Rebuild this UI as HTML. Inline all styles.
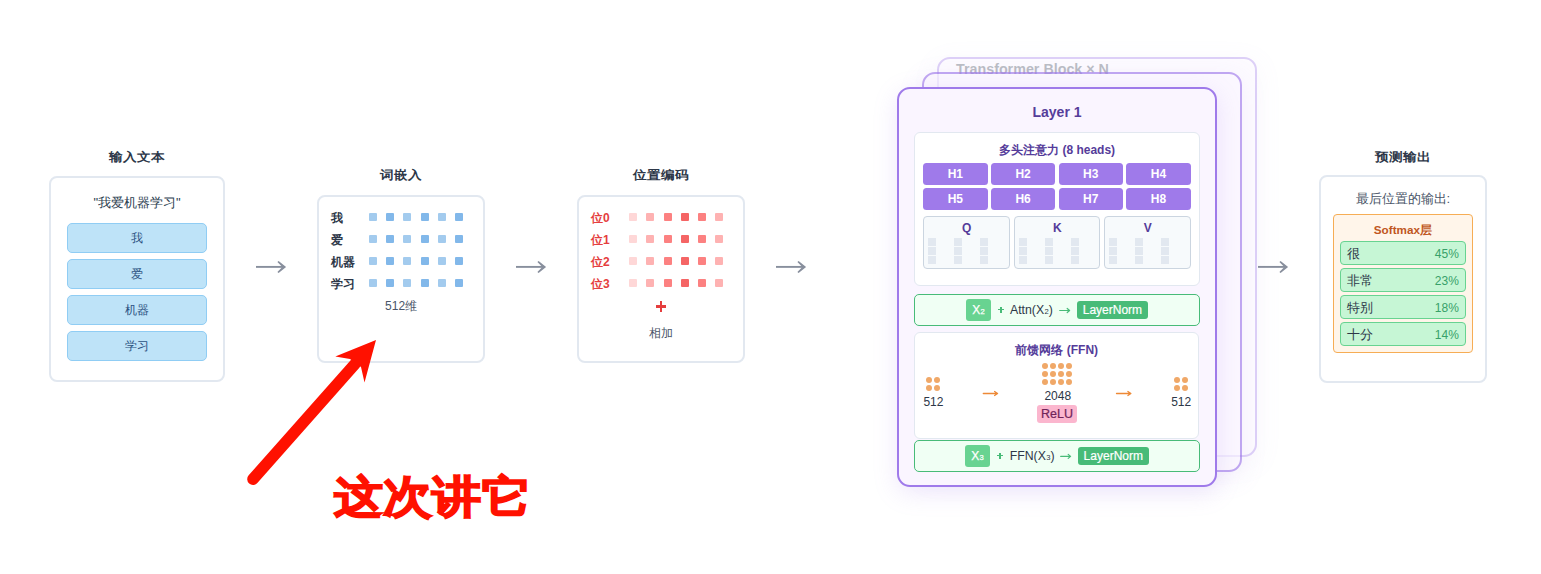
<!DOCTYPE html>
<html><head><meta charset="utf-8">
<style>
*{box-sizing:border-box;margin:0;padding:0}
html,body{width:1541px;height:574px;overflow:hidden;background:#fff}
body{position:relative;font-family:"Liberation Sans",sans-serif;color:#2d3748}
.abs{position:absolute}
.card{position:absolute;border:2px solid #e2e8f0;border-radius:8px;background:#fff}
.ttl{position:absolute;text-align:center;font-size:14px;font-weight:bold;color:#2d3748;line-height:20px;white-space:nowrap;transform:scaleY(0.88)}
.ctr{position:absolute;text-align:center;white-space:nowrap}
.tok{position:absolute;left:67.2px;width:139.6px;height:29.8px;background:#bee3f8;border:1px solid #90cdf4;border-radius:5px;font-size:12.2px;color:#2c5282;text-align:center;line-height:29.6px}
.sq{position:absolute;width:8px;height:8px;border-radius:1px}
.lbl{position:absolute;font-size:12px;font-weight:bold;line-height:16px;white-space:nowrap}
.arrow{position:absolute;width:32px;height:14px}
.layer{position:absolute;width:319px;height:399px;border-radius:13px}
.head{position:absolute;height:21.6px;width:64.4px;background:#9f7aea;border-radius:3.5px;color:#fff;font-weight:bold;font-size:12px;text-align:center;line-height:22.6px}
.qkv{position:absolute;top:216.3px;height:52.6px;border:1px solid #cbd5e0;background:#f7fafc;border-radius:4px}
.qkv b{position:absolute;left:0;right:0;top:4px;text-align:center;font-size:12px;color:#553c9a;line-height:14px}
.ms{position:absolute;width:8px;height:8px;background:#e2e8f0}
.green{position:absolute;left:914.2px;width:285.6px;height:31.7px;border:1px solid #48bb78;background:#f0fff4;border-radius:5px}
.xb{position:absolute;height:22px;width:25px;background:#68d391;border-radius:3px;color:#fff;font-size:12px;text-align:center;line-height:23.5px;-webkit-text-stroke:0.25px #fff}
.plus{position:absolute;width:6.6px;height:5.4px}.plus:before{content:"";position:absolute;left:0;top:1.9px;width:6.6px;height:1.6px;background:#48bb78}.plus:after{content:"";position:absolute;left:2.5px;top:-0.1px;width:1.6px;height:5.6px;background:#48bb78}
.sb{font-size:7.6px;margin-left:0.3px}
.expr{position:absolute;font-size:12.3px;color:#2d3748;line-height:16px;white-space:nowrap}
.garr{position:absolute;color:#38a169;font-size:13px;line-height:16px}
.ln{position:absolute;height:17.8px;width:70.8px;background:#48bb78;border-radius:3px;color:#fff;font-size:12px;-webkit-text-stroke:0.2px #fff;text-align:center;line-height:19.6px}
.dot{position:absolute;width:6px;height:6px;border-radius:50%;background:#f0a868}
.num{position:absolute;font-size:12px;color:#2d3748;line-height:14px;white-space:nowrap}
.oarr{position:absolute;color:#ed8936;font-size:14px;line-height:14px}
.out{position:absolute;left:1340.2px;width:126px;height:23.6px;background:#c6f6d5;border:1px solid #68d391;border-radius:4px;font-size:12.5px;line-height:22.6px}
.out span{position:absolute;left:5.6px;top:0.9px;color:#2d3748}
.out i{position:absolute;right:6.3px;top:0.8px;font-size:12px;font-style:normal;color:#38a169}
</style></head>
<body>

<!-- Card 1 -->
<div class="ttl" style="left:49.5px;width:175px;top:146.5px">输入文本</div>
<div class="card" style="left:49px;top:176px;width:176px;height:206px"></div>
<div class="ctr" style="left:49.5px;width:175px;top:195.3px;font-size:13px;line-height:16px;color:#2c3e50">"我爱机器学习"</div>
<div class="tok" style="top:223px">我</div>
<div class="tok" style="top:259px">爱</div>
<div class="tok" style="top:295px">机器</div>
<div class="tok" style="top:331px">学习</div>

<!-- arrows -->
<svg class="arrow" style="left:255px;top:260px" viewBox="0 0 32 14"><path d="M1 6.9H28.5" fill="none" stroke="#888f9d" stroke-width="1.9"/><path d="M23.6 0.9L31.1 6.9L23.6 12.9L22.4 11.9L27.3 6.9L22.4 1.9Z" fill="#888f9d"/></svg>
<svg class="arrow" style="left:515px;top:260px" viewBox="0 0 32 14"><path d="M1 6.9H28.5" fill="none" stroke="#888f9d" stroke-width="1.9"/><path d="M23.6 0.9L31.1 6.9L23.6 12.9L22.4 11.9L27.3 6.9L22.4 1.9Z" fill="#888f9d"/></svg>
<svg class="arrow" style="left:775px;top:260px" viewBox="0 0 32 14"><path d="M1 6.9H28.5" fill="none" stroke="#888f9d" stroke-width="1.9"/><path d="M23.6 0.9L31.1 6.9L23.6 12.9L22.4 11.9L27.3 6.9L22.4 1.9Z" fill="#888f9d"/></svg>
<svg class="arrow" style="left:1257px;top:260px" viewBox="0 0 32 14"><path d="M1 6.9H28.5" fill="none" stroke="#888f9d" stroke-width="1.9"/><path d="M23.6 0.9L31.1 6.9L23.6 12.9L22.4 11.9L27.3 6.9L22.4 1.9Z" fill="#888f9d"/></svg>

<!-- Card 2 -->
<div class="ttl" style="left:317.3px;width:167.5px;top:165px">词嵌入</div>
<div class="card" style="left:317.3px;top:195px;width:167.5px;height:167.7px"></div>
<div class="lbl" style="left:331px;top:209.6px;color:#2d3748">我</div>
<div class="sq" style="left:369.2px;top:213px;background:#a3cbee"></div>
<div class="sq" style="left:386.34px;top:213px;background:#82b8ea"></div>
<div class="sq" style="left:403.48px;top:213px;background:#a3cbee"></div>
<div class="sq" style="left:420.62px;top:213px;background:#82b8ea"></div>
<div class="sq" style="left:437.76px;top:213px;background:#a3cbee"></div>
<div class="sq" style="left:454.9px;top:213px;background:#82b8ea"></div>
<div class="lbl" style="left:331px;top:231.6px;color:#2d3748">爱</div>
<div class="sq" style="left:369.2px;top:235px;background:#a3cbee"></div>
<div class="sq" style="left:386.34px;top:235px;background:#82b8ea"></div>
<div class="sq" style="left:403.48px;top:235px;background:#a3cbee"></div>
<div class="sq" style="left:420.62px;top:235px;background:#82b8ea"></div>
<div class="sq" style="left:437.76px;top:235px;background:#a3cbee"></div>
<div class="sq" style="left:454.9px;top:235px;background:#82b8ea"></div>
<div class="lbl" style="left:331px;top:253.6px;color:#2d3748">机器</div>
<div class="sq" style="left:369.2px;top:257px;background:#a3cbee"></div>
<div class="sq" style="left:386.34px;top:257px;background:#82b8ea"></div>
<div class="sq" style="left:403.48px;top:257px;background:#a3cbee"></div>
<div class="sq" style="left:420.62px;top:257px;background:#82b8ea"></div>
<div class="sq" style="left:437.76px;top:257px;background:#a3cbee"></div>
<div class="sq" style="left:454.9px;top:257px;background:#82b8ea"></div>
<div class="lbl" style="left:331px;top:275.6px;color:#2d3748">学习</div>
<div class="sq" style="left:369.2px;top:279px;background:#a3cbee"></div>
<div class="sq" style="left:386.34px;top:279px;background:#82b8ea"></div>
<div class="sq" style="left:403.48px;top:279px;background:#a3cbee"></div>
<div class="sq" style="left:420.62px;top:279px;background:#82b8ea"></div>
<div class="sq" style="left:437.76px;top:279px;background:#a3cbee"></div>
<div class="sq" style="left:454.9px;top:279px;background:#82b8ea"></div>
<div class="ctr" style="left:317.3px;width:167.5px;top:298px;font-size:12px;line-height:16px;color:#4a5568">512维</div>

<!-- Card 3 -->
<div class="ttl" style="left:577.3px;width:167.5px;top:165px">位置编码</div>
<div class="card" style="left:577.3px;top:195px;width:167.5px;height:167.7px"></div>
<div class="lbl" style="left:591px;top:209.6px;color:#e53e3e">位0</div>
<div class="sq" style="left:629.1px;top:213px;background:#fed7d7"></div>
<div class="sq" style="left:646.32px;top:213px;background:#feb2b2"></div>
<div class="sq" style="left:663.54px;top:213px;background:#fc8181"></div>
<div class="sq" style="left:680.76px;top:213px;background:#f56565"></div>
<div class="sq" style="left:697.98px;top:213px;background:#fc8181"></div>
<div class="sq" style="left:715.2px;top:213px;background:#feb2b2"></div>
<div class="lbl" style="left:591px;top:231.6px;color:#e53e3e">位1</div>
<div class="sq" style="left:629.1px;top:235px;background:#fed7d7"></div>
<div class="sq" style="left:646.32px;top:235px;background:#feb2b2"></div>
<div class="sq" style="left:663.54px;top:235px;background:#fc8181"></div>
<div class="sq" style="left:680.76px;top:235px;background:#f56565"></div>
<div class="sq" style="left:697.98px;top:235px;background:#fc8181"></div>
<div class="sq" style="left:715.2px;top:235px;background:#feb2b2"></div>
<div class="lbl" style="left:591px;top:253.6px;color:#e53e3e">位2</div>
<div class="sq" style="left:629.1px;top:257px;background:#fed7d7"></div>
<div class="sq" style="left:646.32px;top:257px;background:#feb2b2"></div>
<div class="sq" style="left:663.54px;top:257px;background:#fc8181"></div>
<div class="sq" style="left:680.76px;top:257px;background:#f56565"></div>
<div class="sq" style="left:697.98px;top:257px;background:#fc8181"></div>
<div class="sq" style="left:715.2px;top:257px;background:#feb2b2"></div>
<div class="lbl" style="left:591px;top:275.6px;color:#e53e3e">位3</div>
<div class="sq" style="left:629.1px;top:279px;background:#fed7d7"></div>
<div class="sq" style="left:646.32px;top:279px;background:#feb2b2"></div>
<div class="sq" style="left:663.54px;top:279px;background:#fc8181"></div>
<div class="sq" style="left:680.76px;top:279px;background:#f56565"></div>
<div class="sq" style="left:697.98px;top:279px;background:#fc8181"></div>
<div class="sq" style="left:715.2px;top:279px;background:#feb2b2"></div>
<div class="abs" style="left:655.9px;top:305.1px;width:10.2px;height:2.9px;background:#e53e3e"></div><div class="abs" style="left:659.5px;top:301px;width:2.9px;height:11px;background:#e53e3e"></div>
<div class="ctr" style="left:577.3px;width:167.5px;top:325px;font-size:12px;line-height:16px;color:#4a5568">相加</div>

<!-- Transformer stack -->
<div class="layer" style="left:936.8px;top:56.6px;width:320px;height:400px;border:2px solid #9f7aea;background:#faf5ff;opacity:0.35;box-shadow:0 6px 24px rgba(159,122,234,0.12)"><div class="abs" style="left:17.2px;top:2.4px;font-size:14.3px;font-weight:bold;color:#3d4658;line-height:16px;white-space:nowrap">Transformer Block × N</div></div>
<div class="layer" style="left:922px;top:71.8px;width:320px;height:400px;border:2px solid #9f7aea;background:#faf5ff;opacity:0.65;box-shadow:0 6px 24px rgba(159,122,234,0.15)"></div>
<div class="layer" style="left:897.2px;top:86.8px;width:320px;height:400px;border:2.5px solid #9f7aea;background:#faf5ff;box-shadow:0 6px 24px rgba(159,122,234,0.18)"></div>
<div class="ctr" style="left:897.5px;width:319px;top:103px;font-size:14px;font-weight:bold;color:#553c9a;line-height:18px">Layer 1</div>

<div class="abs" style="left:914.3px;top:132.2px;width:285.6px;height:153.4px;border:1px solid #e2e8f0;background:#fff;border-radius:6px"></div>
<div class="ctr" style="left:914.3px;width:285.6px;top:142px;font-size:12px;font-weight:bold;color:#553c9a;line-height:16px">多头注意力 (8 heads)</div>
<div class="head" style="left:923.2px;top:163px">H1</div>
<div class="head" style="left:990.9px;top:163px">H2</div>
<div class="head" style="left:1058.6px;top:163px">H3</div>
<div class="head" style="left:1126.3px;top:163px">H4</div>
<div class="head" style="left:923.2px;top:188px">H5</div>
<div class="head" style="left:990.9px;top:188px">H6</div>
<div class="head" style="left:1058.6px;top:188px">H7</div>
<div class="head" style="left:1126.3px;top:188px">H8</div>
<div class="qkv" style="left:923.3px;width:86.9px"><b>Q</b></div>
<div class="qkv" style="left:1014.4px;width:85.8px"><b>K</b></div>
<div class="qkv" style="left:1104.2px;width:87px"><b>V</b></div>
<div class="ms" style="left:928.3px;top:238px"></div>
<div class="ms" style="left:928.3px;top:247px"></div>
<div class="ms" style="left:928.3px;top:256px"></div>
<div class="ms" style="left:954.3px;top:238px"></div>
<div class="ms" style="left:954.3px;top:247px"></div>
<div class="ms" style="left:954.3px;top:256px"></div>
<div class="ms" style="left:980.3px;top:238px"></div>
<div class="ms" style="left:980.3px;top:247px"></div>
<div class="ms" style="left:980.3px;top:256px"></div>
<div class="ms" style="left:1019.4px;top:238px"></div>
<div class="ms" style="left:1019.4px;top:247px"></div>
<div class="ms" style="left:1019.4px;top:256px"></div>
<div class="ms" style="left:1045.4px;top:238px"></div>
<div class="ms" style="left:1045.4px;top:247px"></div>
<div class="ms" style="left:1045.4px;top:256px"></div>
<div class="ms" style="left:1071.4px;top:238px"></div>
<div class="ms" style="left:1071.4px;top:247px"></div>
<div class="ms" style="left:1071.4px;top:256px"></div>
<div class="ms" style="left:1109.2px;top:238px"></div>
<div class="ms" style="left:1109.2px;top:247px"></div>
<div class="ms" style="left:1109.2px;top:256px"></div>
<div class="ms" style="left:1135.2px;top:238px"></div>
<div class="ms" style="left:1135.2px;top:247px"></div>
<div class="ms" style="left:1135.2px;top:256px"></div>
<div class="ms" style="left:1161.2px;top:238px"></div>
<div class="ms" style="left:1161.2px;top:247px"></div>
<div class="ms" style="left:1161.2px;top:256px"></div>

<div class="green" style="top:294.1px"></div>
<div class="xb" style="left:966px;top:298.8px">X<span class="sb">2</span></div>
<div class="plus" style="left:997.6px;top:307px"></div>
<div class="expr" style="left:1010px;top:302px">Attn(X<span class="sb">2</span>)</div>
<svg class="abs" style="left:1055px;top:305px" width="20" height="12" viewBox="0 0 20 12"><path d="M4.7 5.5H14.4M12.2 3.5L14.6 5.5L12.2 7.5" fill="none" stroke="#48bb78" stroke-width="1.2" stroke-linecap="round" stroke-linejoin="round"/></svg>
<div class="ln" style="left:1077px;top:301px">LayerNorm</div>

<div class="abs" style="left:914.4px;top:332.3px;width:284.8px;height:106.7px;border:1px solid #e2e8f0;background:#fff;border-radius:6px"></div>
<div class="ctr" style="left:914.4px;width:284.8px;top:341.5px;font-size:12px;font-weight:bold;color:#553c9a;line-height:16px">前馈网络 (FFN)</div>
<div class="dot" style="left:926px;top:377.3px"></div>
<div class="dot" style="left:934px;top:377.3px"></div>
<div class="dot" style="left:926px;top:385.3px"></div>
<div class="dot" style="left:934px;top:385.3px"></div>
<div class="dot" style="left:1042.1px;top:363.1px"></div>
<div class="dot" style="left:1050.1px;top:363.1px"></div>
<div class="dot" style="left:1058.1px;top:363.1px"></div>
<div class="dot" style="left:1066.1px;top:363.1px"></div>
<div class="dot" style="left:1042.1px;top:371.1px"></div>
<div class="dot" style="left:1050.1px;top:371.1px"></div>
<div class="dot" style="left:1058.1px;top:371.1px"></div>
<div class="dot" style="left:1066.1px;top:371.1px"></div>
<div class="dot" style="left:1042.1px;top:379.1px"></div>
<div class="dot" style="left:1050.1px;top:379.1px"></div>
<div class="dot" style="left:1058.1px;top:379.1px"></div>
<div class="dot" style="left:1066.1px;top:379.1px"></div>
<div class="dot" style="left:1174.1px;top:377.3px"></div>
<div class="dot" style="left:1182.1px;top:377.3px"></div>
<div class="dot" style="left:1174.1px;top:385.3px"></div>
<div class="dot" style="left:1182.1px;top:385.3px"></div>
<div class="num" style="left:923.4px;top:395px">512</div>
<svg class="abs" style="left:980px;top:388px" width="22" height="12" viewBox="0 0 22 12"><path d="M3.3 5.5H17.4M14.6 3.5L17.6 5.5L14.6 7.5" fill="none" stroke="#ed8936" stroke-width="1.3" stroke-linecap="round" stroke-linejoin="round"/></svg>
<div class="num" style="left:1044.4px;top:389px">2048</div>
<div class="abs" style="left:1037px;top:405px;width:40px;height:17.6px;background:#fbb6ce;border-radius:3px;color:#702459;font-size:12.5px;-webkit-text-stroke:0.2px #702459;text-align:center;line-height:19.4px">ReLU</div>
<svg class="abs" style="left:1113px;top:388px" width="22" height="12" viewBox="0 0 22 12"><path d="M3.5 5.5H17.7M14.9 3.5L17.9 5.5L14.9 7.5" fill="none" stroke="#ed8936" stroke-width="1.3" stroke-linecap="round" stroke-linejoin="round"/></svg>
<div class="num" style="left:1171.2px;top:395px">512</div>

<div class="green" style="top:440.1px"></div>
<div class="xb" style="left:965px;top:445px">X<span class="sb">3</span></div>
<div class="plus" style="left:996.8px;top:453px"></div>
<div class="expr" style="left:1009.7px;top:448px">FFN(X<span class="sb">3</span>)</div>
<svg class="abs" style="left:1056px;top:451px" width="20" height="12" viewBox="0 0 20 12"><path d="M4.7 5.4H14.4M12.2 3.4L14.6 5.4L12.2 7.4" fill="none" stroke="#48bb78" stroke-width="1.2" stroke-linecap="round" stroke-linejoin="round"/></svg>
<div class="ln" style="left:1077.9px;top:447px">LayerNorm</div>

<!-- Card 5 -->
<div class="ttl" style="left:1319.9px;width:166px;top:146.5px">预测输出</div>
<div class="card" style="left:1319px;top:175px;width:168px;height:208px"></div>
<div class="ctr" style="left:1319.9px;width:166px;top:190.8px;font-size:13px;line-height:16px;color:#4a5568">最后位置的输出:</div>
<div class="abs" style="left:1333.1px;top:214.4px;width:139.6px;height:138.8px;border:1px solid #f6ad55;background:#fff5ea;border-radius:4px"></div>
<div class="ctr" style="left:1333.1px;width:139.6px;top:221.8px;font-size:11.7px;font-weight:bold;line-height:16px;color:#c05621">Softmax层</div>
<div class="out" style="top:241.4px"><span>很</span><i>45%</i></div>
<div class="out" style="top:268.3px"><span>非常</span><i>23%</i></div>
<div class="out" style="top:295.3px"><span>特别</span><i>18%</i></div>
<div class="out" style="top:322.2px"><span>十分</span><i>14%</i></div>

<!-- Red annotation -->
<svg class="abs" style="left:0;top:0" width="1541" height="574" viewBox="0 0 1541 574">
<line x1="253" y1="479.2" x2="355" y2="364" stroke="#ff1100" stroke-width="11.6" stroke-linecap="round"/>
<path d="M376 340 L335.3 356.5 L350 359 L361 367 L364.5 382.5 Z" fill="#ff1100"/>
</svg>
<div class="abs" style="left:333.6px;top:470.2px;font-size:49px;font-weight:bold;color:#ff1100;line-height:60px;transform:scale(1.004,0.9);transform-origin:0 0;-webkit-text-stroke:1.8px #ff1100;white-space:nowrap">这次讲它</div>

</body></html>
